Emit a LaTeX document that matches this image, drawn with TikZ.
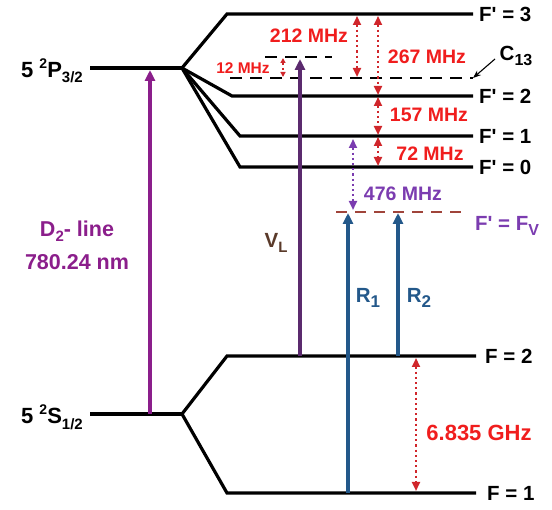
\documentclass[tikz,border=0pt]{standalone}
\usepackage{fontspec}
\setmainfont{Liberation Sans}
\usetikzlibrary{arrows.meta,positioning}

\definecolor{lineRed}{HTML}{D0262B}
\definecolor{textRed}{HTML}{F01D1D}
\definecolor{dPurple}{HTML}{8B1E8B}
\definecolor{vlPurple}{HTML}{5B2A6E}
\definecolor{vlText}{HTML}{5A3A2A}
\definecolor{violet}{HTML}{7B3CB0}
\definecolor{rBlue}{HTML}{23588A}
\definecolor{fvRed}{HTML}{A0443A}

\newcommand{\subtxt}[2][15]{\raisebox{-0.5ex}{\fontsize{#1}{#1}\selectfont #2}}
\newcommand{\suptxt}[2][14]{\raisebox{0.75ex}{\fontsize{#1}{#1}\selectfont #2}}
\newcommand{\pr}{\textquotesingle}

\begin{document}
\begin{tikzpicture}[
	x=1pt, y=-1pt,
	level/.style={line width=3.2pt, black},
	dashlevel/.style={line width=2.2pt, dash pattern=on 12pt off 8pt},
	lvltext/.style={font=\fontsize{20.5}{24}\selectfont\bfseries, inner sep=0pt, anchor=west},
	statetext/.style={font=\fontsize{22}{26}\selectfont\bfseries, inner sep=0pt, anchor=east},
	redtext/.style={font=\fontsize{19.5}{22}\selectfont\bfseries, text=textRed, inner sep=0pt},
	gap/.style={lineRed, line width=2.2pt, dash pattern=on 2.2pt off 3pt,
		{Triangle[length=9pt,width=8pt]}-{Triangle[length=9pt,width=8pt]}},
	pump/.style={line width=3.2pt, -{Triangle[length=11pt,width=10pt]}}
	]
	\useasboundingbox (0,0) rectangle (552,510);
	
	% 5 2P3/2
	\coordinate (p0) at (90,68);
	\coordinate (p1) at (182,68);
	\draw[level] (p0) -- (p1);
	\node[statetext] (plab) at (83,71) {5 \suptxt{2}P\subtxt{3/2}};
	
	% hyperfine F' levels
	\coordinate (f3a) at (227,14);  \coordinate (f3b) at (473,14);
	\coordinate (f2a) at (232,96);  \coordinate (f2b) at (473,96);
	\coordinate (f1a) at (240,136); \coordinate (f1b) at (473,136);
	\coordinate (f0a) at (240,167); \coordinate (f0b) at (473,167);
	\draw[level] (p1) -- (f3a) -- (f3b);
	\draw[level] (p1) -- (f2a) -- (f2b);
	\draw[level] (p1) -- (f1a) -- (f1b);
	\draw[level] (p1) -- (f0a) -- (f0b);
	\node[lvltext, right=6pt of f3b] (lf3) {F\pr\ = 3};
	\node[lvltext, right=6pt of f2b] (lf2) {F\pr\ = 2};
	\node[lvltext, right=6pt of f1b] (lf1) {F\pr\ = 1};
	\node[lvltext, right=6pt of f0b] (lf0) {F\pr\ = 0};
	
	% crossover C13 and laser level
	\coordinate (c0) at (230,78);  \coordinate (c1) at (473,78);
	\coordinate (v0) at (265,57);  \coordinate (v1) at (332,57);
	\draw[dashlevel] (c0) -- (c1);
	\draw[dashlevel] (v0) -- (v1);
	\node[lvltext, anchor=center] (lc13) at (516,56) {C\subtxt[16]{13}};
	\coordinate (c13a) at (495,59);
	\draw[line width=1.1pt, -{Stealth[length=8pt,width=6pt]}] (c13a) -- (c1);
	
	% virtual level Fv
	\coordinate (fv0) at (336,212); \coordinate (fv1) at (467,212);
	\draw[dashlevel, fvRed, dash pattern=on 11pt off 8pt] (fv0) -- (fv1);
	\node[lvltext, text=violet, anchor=center] (lfv) at (507,226) {F\pr\ = F\subtxt[16]{V}};
	
	% 5 2S1/2
	\coordinate (s0) at (90,414);
	\coordinate (s1) at (182,414);
	\draw[level] (s0) -- (s1);
	\node[statetext] (slab) at (83,417) {5 \suptxt{2}S\subtxt{1/2}};
	
	% ground F levels
	\coordinate (g2a) at (227,356); \coordinate (g2b) at (476,356);
	\coordinate (g1a) at (227,493); \coordinate (g1b) at (476,493);
	\draw[level] (s1) -- (g2a) -- (g2b);
	\draw[level] (s1) -- (g1a) -- (g1b);
	\node[lvltext, right=9pt of g2b] (lg2) {F = 2};
	\node[lvltext, right=11pt of g1b] (lg1) {F = 1};
	
	% D2 line
	\coordinate (d0) at (150,414);
	\coordinate (d1) at (150,70);
	\draw[pump, dPurple] (d0) -- (d1);
	\node[font=\fontsize{21.5}{26}\selectfont\bfseries, text=dPurple, align=center, inner sep=0pt] (dlab) at (77,245)
		{D\subtxt{2}- line\\[7pt] 780.24 nm};
	
	% laser VL
	\coordinate (vl0) at (300,356);
	\coordinate (vl1) at (300,59);
	\draw[pump, vlPurple] (vl0) -- (vl1);
	\node[lvltext, text=vlText, anchor=center] (lvl) at (276,243) {V\subtxt{L}};
	
	% R1 and R2
	\coordinate (r1a) at (348,493); \coordinate (r1b) at (348,213);
	\coordinate (r2a) at (398,356); \coordinate (r2b) at (398,213);
	\draw[pump, rBlue] (r1a) -- (r1b);
	\draw[pump, rBlue] (r2a) -- (r2b);
	\node[lvltext, text=rBlue, anchor=center] (lr1) at (368,298) {R\subtxt[17]{1}};
	\node[lvltext, text=rBlue, anchor=center] (lr2) at (419,298) {R\subtxt[17]{2}};
	
	% splittings
	\coordinate (a212t) at (357,16);  \coordinate (a212b) at (357,77);
	\coordinate (a267t) at (378,16);  \coordinate (a267b) at (378,95);
	\coordinate (a157t) at (378,97);  \coordinate (a157b) at (378,135);
	\coordinate (a72t) at (378,137);  \coordinate (a72b) at (378,166);
	\coordinate (a12t) at (283,58);   \coordinate (a12b) at (283,77);
	\coordinate (a476t) at (353,139); \coordinate (a476b) at (353,210);
	\coordinate (ghzt) at (416,358);  \coordinate (ghzb) at (416,491);
	\draw[gap] (a212t) -- (a212b);
	\draw[gap] (a267t) -- (a267b);
	\draw[gap] (a157t) -- (a157b);
	\draw[gap] (a72t) -- (a72b);
	\draw[gap, line width=1.5pt, {Triangle[length=5pt,width=5pt]}-{Triangle[length=5pt,width=5pt]}] (a12t) -- (a12b);
	\draw[gap, violet] (a476t) -- (a476b);
	\draw[gap] (ghzt) -- (ghzb);
	\node[redtext] (l212) at (309,36) {212 MHz};
	\node[redtext] (l267) at (427,57) {267 MHz};
	\node[redtext] (l157) at (429,115) {157 MHz};
	\node[redtext] (l72) at (430,154) {72 MHz};
	\node[redtext, font=\fontsize{15.5}{18}\selectfont\bfseries] (l12) at (243,68) {12 MHz};
	\node[redtext, text=violet] (l476) at (403,194) {476 MHz};
	\node[redtext, font=\fontsize{22}{26}\selectfont\bfseries] (lghz) at (479,433) {6.835 GHz};
\end{tikzpicture}
\end{document}
